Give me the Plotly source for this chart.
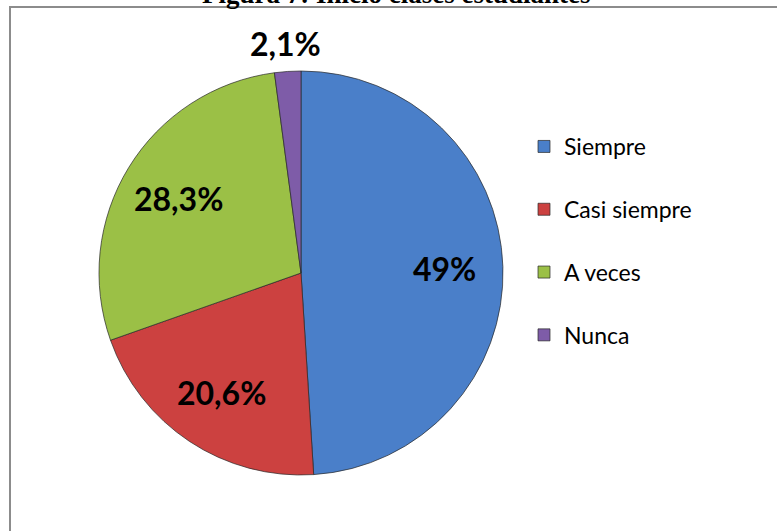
import math
import plotly.graph_objects as go

categories = ["Siempre", "Casi siempre", "A veces", "Nunca"]
values = [49, 20.6, 28.3, 2.1]
colors = ["#4A7FC9", "#CC4140", "#9BC046", "#7E5CA8"]
title_text = "Figura 7: Inicio clases estudiantes"

W, H = 777, 531
CX, CY, R = 301, 273, 202   # pie centre and radius in pixels (layout)

def fmt(v):
    s = ("%g" % v).replace(".", ",")
    return s + "%"

texts = [fmt(v) for v in values]
legend_labels = [c + "<br> " for c in categories]

fig = go.Figure()
fig.add_trace(go.Pie(
    labels=legend_labels,
    values=values,
    text=texts,
    textinfo="none",
    customdata=categories,
    hovertemplate="%{customdata}: %{text}<extra></extra>",
    sort=False,
    direction="clockwise",
    rotation=0,
    marker=dict(colors=colors, line=dict(color="rgba(40,40,40,0.7)", width=1)),
    domain=dict(x=[(CX - R) / W, (CX + R) / W],
                y=[(H - CY - R) / H, (H - CY + R) / H]),
))

# data labels placed along each slice's mid angle (derived from the values)
total = sum(values)
annotations = []
cum = 0.0
for v, t in zip(values, texts):
    mid = (cum + v / 2) / total * 2 * math.pi
    cum += v
    rf = 0.71 if v / total > 0.05 else 1.14
    px = CX + rf * R * math.sin(mid)
    py = CY - rf * R * math.cos(mid)
    annotations.append(dict(
        x=px / W, y=1 - py / H, xref="paper", yref="paper",
        text=t, showarrow=False, xanchor="center", yanchor="middle",
        font=dict(family="Lato", size=32, color="black", weight="bold"),
    ))

annotations.append(dict(
    x=396 / W, y=1 - 11 / H, xref="paper", yref="paper",
    text="<b>" + title_text + "</b>", showarrow=False,
    xanchor="center", yanchor="bottom",
    font=dict(family="Liberation Serif", size=27, color="black"),
))

fig.update_layout(
    width=W, height=H,
    margin=dict(l=0, r=0, t=0, b=0),
    paper_bgcolor="white",
    plot_bgcolor="white",
    showlegend=True,
    legend=dict(
        x=524 / W, y=1 - 125 / H, xanchor="left", yanchor="top",
        font=dict(family="Lato", size=23, color="black"),
        valign="top",
        bgcolor="rgba(0,0,0,0)",
    ),
    annotations=annotations,
    shapes=[dict(
        type="rect", xref="paper", yref="paper",
        x0=10 / W, x1=1.02, y0=-0.02, y1=1 - 7 / H,
        line=dict(color="#8c8c8c", width=2),
    )],
)

fig.write_html(
    "out.html",
    config={"displayModeBar": False},
    post_script="document.body.style.margin='0';document.body.style.overflow='hidden';",
)
